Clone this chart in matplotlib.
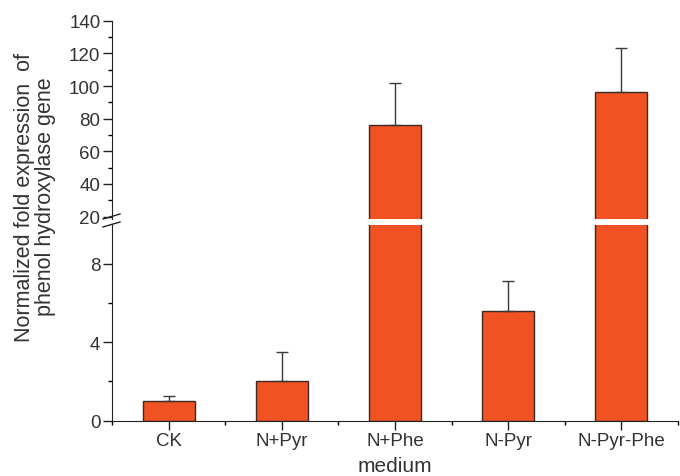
import matplotlib
matplotlib.use("Agg")
import matplotlib.pyplot as plt
import numpy as np

plt.rcParams['font.family'] = ['Liberation Sans', 'DejaVu Sans']

categories = ["CK", "N+Pyr", "N+Phe", "N-Pyr", "N-Pyr-Phe"]
values = [0.98, 2.03, 76.1, 5.6, 96.2]
errors = [0.3, 1.45, 25.7, 1.53, 27.2]

bar_color = "#F05223"
edge_color = "#3a2a22"
text_color = "#333333"

fig = plt.figure(figsize=(6.8, 4.77), dpi=100)
ax_lo = fig.add_axes([0.1651, 0.116, 0.8315, 0.411])
ax_hi = fig.add_axes([0.1651, 0.5396, 0.8315, 0.4149])

x = np.arange(len(categories))
for ax in (ax_lo, ax_hi):
    ax.bar(x, values, width=0.455, color=bar_color, edgecolor=edge_color, linewidth=1.0)
    ax.errorbar(x, values, yerr=[np.zeros(len(errors)), errors], fmt="none",
                ecolor="#3a3a3a", elinewidth=1.0, capsize=4.5, capthick=1.0)
    ax.set_xlim(-0.5, 4.5)
    for s in ("top", "right"):
        ax.spines[s].set_visible(False)
    ax.spines["left"].set_color("#222222")
    ax.spines["bottom"].set_color("#222222")
    ax.tick_params(colors="#222222", labelcolor=text_color, labelsize=13.5)
    ax.tick_params(axis="y", pad=2)
    ax.tick_params(axis="x", pad=2)

# lower part
ax_lo.set_ylim(0, 10)
ax_lo.set_yticks([0, 4, 8])
ax_lo.set_yticks([2, 6], minor=True)
ax_lo.set_xticks(x)
ax_lo.set_xticklabels(categories)
ax_lo.set_xticks(np.arange(-0.5, 5, 1.0), minor=True)
ax_lo.tick_params(axis="both", which="major", length=6.5, width=1)
ax_lo.tick_params(axis="both", which="minor", length=3, width=1)
ax_lo.set_xlabel("medium", fontsize=15, color=text_color, labelpad=4.5)

# upper part
ax_hi.set_ylim(18.8, 140)
ax_hi.set_yticks(np.arange(20, 141, 20))
ax_hi.set_yticks(np.arange(30, 140, 20), minor=True)
ax_hi.spines["bottom"].set_visible(False)
ax_hi.set_xticks([])
ax_hi.tick_params(axis="y", which="major", length=6.5, width=1)
ax_hi.tick_params(axis="y", which="minor", length=3, width=1)

# break marks on the left spine
for yp in (217.5, 225.5):
    yf = 1 - yp / 477
    fig.add_artist(plt.Line2D([103 / 680, 120 / 680], [yf - 2.5 / 477, yf + 2.5 / 477],
                              color="#222222", linewidth=1.0))

fig.text(0.051, 0.587, "Normalized fold expression  of\nphenol hydroxylase gene",
         rotation=90, ha="center", va="center", fontsize=15.5, color=text_color,
         linespacing=1.0)

fig.savefig("out.png", dpi=100)
